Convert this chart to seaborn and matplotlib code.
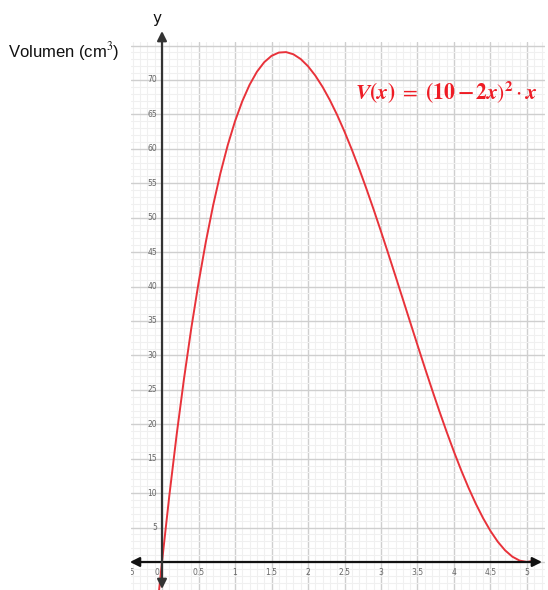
import numpy as np
import pandas as pd
import matplotlib
matplotlib.use("Agg")
import matplotlib.pyplot as plt
import seaborn as sns
from matplotlib.ticker import MultipleLocator

# Data (x in cm, V in cm^3)
x_vals = [-0.05, 0.0, 0.1, 0.2, 0.3, 0.4, 0.5, 0.6, 0.7, 0.8, 0.9, 1.0,
          1.1, 1.2, 1.3, 1.4, 1.5, 1.6, 1.7, 1.8, 1.9, 2.0,
          2.1, 2.2, 2.3, 2.4, 2.5, 2.6, 2.7, 2.8, 2.9, 3.0,
          3.1, 3.2, 3.3, 3.4, 3.5, 3.6, 3.7, 3.8, 3.9, 4.0,
          4.1, 4.2, 4.3, 4.4, 4.5, 4.6, 4.7, 4.8, 4.9, 5.0, 5.1]
v_vals = [-5.10, 0.0, 9.60, 18.43, 26.51, 33.86, 40.50, 46.46, 51.77, 56.45, 60.52, 64.00,
          66.92, 69.31, 71.19, 72.58, 73.50, 73.98, 74.05, 73.73, 73.04, 72.00,
          70.64, 68.99, 67.07, 64.90, 62.50, 59.90, 57.13, 54.21, 51.16, 48.00,
          44.76, 41.47, 38.15, 34.82, 31.50, 28.22, 25.01, 21.89, 18.88, 16.00,
          13.28, 10.75, 8.43, 6.34, 4.50, 2.94, 1.69, 0.77, 0.20, 0.0, 0.20]

x_tick_labels = ["−0.5", "0", "0.5", "1", "1.5", "2", "2.5", "3", "3.5", "4", "4.5", "5"]
x_tick_pos = [-0.5, 0, 0.5, 1, 1.5, 2, 2.5, 3, 3.5, 4, 4.5, 5]
y_tick_pos = [5, 10, 15, 20, 25, 30, 35, 40, 45, 50, 55, 60, 65, 70]
y_tick_labels = [str(v) for v in y_tick_pos]

df = pd.DataFrame({"x": x_vals, "V": v_vals})

sns.set_style("white")
plt.rcParams["font.family"] = ["DejaVu Sans"]
plt.rcParams["mathtext.fontset"] = "stix"

W, H = 548, 590
fig = plt.figure(figsize=(W / 100, H / 100), dpi=100)
ax = fig.add_axes([131 / W, 0.0, (545 - 131) / W, (590 - 42) / H])

x0px = 162.0
ppx = 73.0
y0px = 562.0
ppy = 6.886
ax.set_xlim((131 - x0px) / ppx, (545 - x0px) / ppx)
ax.set_ylim((y0px - 590) / ppy, (y0px - 42) / ppy)

ax.xaxis.set_major_locator(MultipleLocator(0.5))
ax.xaxis.set_minor_locator(MultipleLocator(0.1))
ax.yaxis.set_major_locator(MultipleLocator(5))
ax.yaxis.set_minor_locator(MultipleLocator(1))
ax.grid(True, which="major", color="#cfcfcf", linewidth=1.0)
ax.grid(True, which="minor", color="#f0f0f0", linewidth=0.8)
ax.set_axisbelow(True)
ax.tick_params(which="both", length=0, labelbottom=False, labelleft=False)
for s in ax.spines.values():
    s.set_visible(False)

sns.lineplot(data=df, x="x", y="V", ax=ax, color="#e8323a", linewidth=1.4, sort=False)
ax.set_xlabel("")
ax.set_ylabel("")

# axes with arrows
ax.annotate("", xy=(1.0 - 6 / W, 0), xytext=(131 / W - 0.002, 0),
            xycoords=("figure fraction", "data"), textcoords=("figure fraction", "data"),
            arrowprops=dict(arrowstyle="<|-|>", color="#111111", lw=1.6,
                            mutation_scale=14, shrinkA=0, shrinkB=0))
ax.annotate("", xy=(0, 1 - 31 / H), xytext=(0, 1 - 589 / H),
            xycoords=("data", "figure fraction"), textcoords=("data", "figure fraction"),
            arrowprops=dict(arrowstyle="<|-|>", color="#333333", lw=1.6,
                            mutation_scale=14, shrinkA=0, shrinkB=0))

# tick labels
for xp, lab in zip(x_tick_pos, x_tick_labels):
    xx = xp - 0.07 if xp == 0 else xp
    ax.text(xx, -0.9, lab, ha="center", va="top", fontsize=5.5, color="#666666",
            clip_on=True)
for yp, lab in zip(y_tick_pos, y_tick_labels):
    ax.text(-0.07, yp, lab, ha="right", va="center", fontsize=5.5, color="#666666")

fig.text(157 / W, 1 - 18 / H, "y", ha="center", va="center", fontsize=11, color="#111111")
fig.text(8 / W, 1 - 52 / H, "Volumen (cm$^3$)", ha="left", va="center", fontsize=12,
         color="#111111", family="Liberation Sans")
fig.text(355 / W, 1 - 92 / H,
         r"$\boldsymbol{V(x)}\ =\ \boldsymbol{(10 - 2x)^{\mathbf{2}}}\cdot\boldsymbol{x}$",
         ha="left", va="center", fontsize=15.5, color="#ee1c25")

fig.savefig("out.png", dpi=100)
